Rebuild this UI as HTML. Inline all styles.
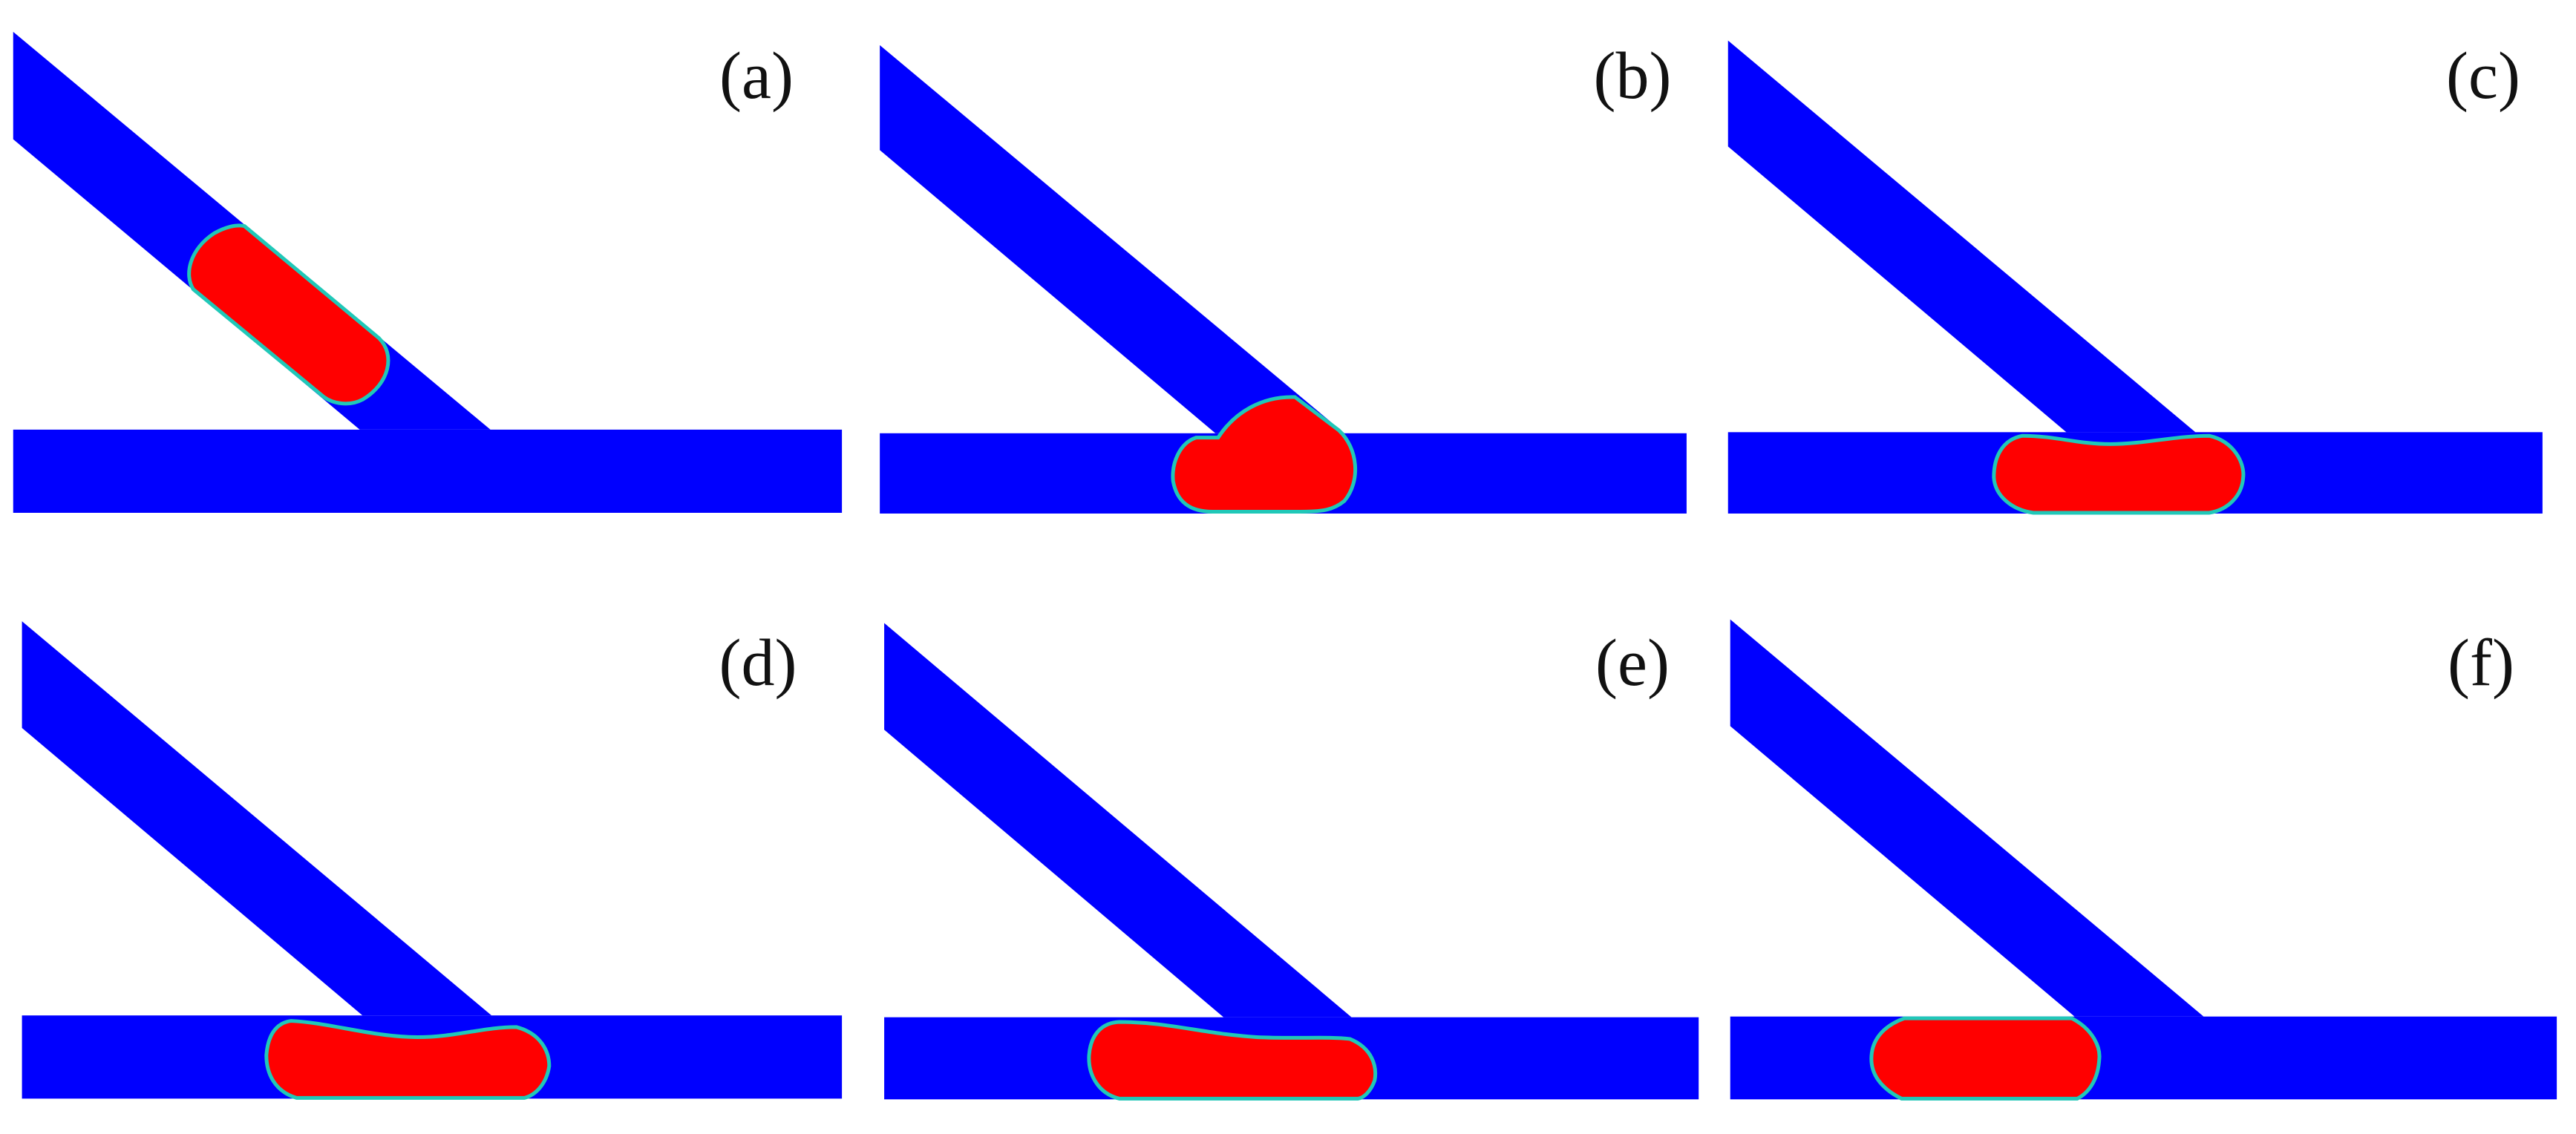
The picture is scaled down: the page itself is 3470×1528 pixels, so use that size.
<!DOCTYPE html>
<html><head><meta charset="utf-8"><style>
html,body{margin:0;padding:0;background:#fff;}
svg{display:block;}
.b{fill:#0000ff;}
.d{fill:#ff0000;stroke:#20c8b8;stroke-width:5;vector-effect:non-scaling-stroke;}
text{font-family:"Liberation Serif",serif;font-size:90px;fill:#111;text-anchor:middle;}
</style></head><body>
<svg width="3470" height="1528" viewBox="0 0 3470 1528" xmlns="http://www.w3.org/2000/svg">
<rect width="3470" height="1528" fill="#fff"/>
<!-- a -->
<g transform="translate(0,0) scale(0.7398,0.4873)">
<polygon class="b" points="24,88 893,1188 655,1188 24,385"/>
<rect class="b" x="24" y="1188" width="1509" height="230"/>
<path class="d" d="M445,625 L690,935 C720,980 710,1060 660,1105 C635,1125 605,1115 590,1098 L352,800 C335,760 345,690 390,645 C410,628 430,620 445,625 Z"/>
</g>
<!-- b -->
<g transform="translate(1160,0) scale(0.7398,0.4873)">
<polygon class="b" points="34,125 880,1198 645,1198 34,415"/>
<rect class="b" x="34" y="1198" width="1469" height="222"/>
<path class="d" d="M650,1210 C680,1140 730,1095 790,1098 L870,1190 C905,1240 910,1330 880,1385 C860,1410 840,1415 800,1415 L640,1415 C600,1415 575,1390 568,1330 C565,1280 580,1225 610,1210 Z"/>
</g>
<!-- c -->
<g transform="translate(2310,0) scale(0.7398,0.4873)">
<polygon class="b" points="24,112 875,1195 640,1195 24,405"/>
<rect class="b" x="24" y="1195" width="1483" height="225"/>
<path class="d" d="M560,1205 C620,1205 660,1228 720,1228 C780,1228 840,1205 900,1205 C945,1220 965,1280 962,1320 C960,1370 935,1410 900,1418 L580,1418 C540,1410 510,1370 508,1320 C508,1260 525,1215 560,1205 Z"/>
</g>
<!-- d -->
<g transform="translate(0,764) scale(0.7398,0.4873)">
<polygon class="b" points="40,150 895,1240 660,1240 40,445"/>
<rect class="b" x="40" y="1240" width="1493" height="230"/>
<path class="d" d="M530,1255 C600,1260 680,1300 760,1300 C830,1300 880,1272 940,1272 C985,1290 1000,1340 1000,1380 C995,1430 975,1460 955,1468 L540,1468 C500,1450 485,1400 485,1350 C488,1290 505,1260 530,1255 Z"/>
</g>
<!-- e -->
<g transform="translate(1160,764) scale(0.7398,0.4873)">
<polygon class="b" points="42,155 893,1245 660,1245 42,450"/>
<rect class="b" x="42" y="1245" width="1483" height="227"/>
<path class="d" d="M470,1258 C560,1258 620,1290 720,1300 C790,1305 850,1298 890,1305 C930,1330 940,1380 935,1420 C928,1450 915,1468 905,1470 L470,1470 C430,1455 413,1400 415,1350 C418,1290 440,1260 470,1258 Z"/>
</g>
<!-- f -->
<g transform="translate(2310,764) scale(0.7398,0.4873)">
<polygon class="b" points="28,145 890,1243 655,1243 28,440"/>
<rect class="b" x="28" y="1243" width="1505" height="229"/>
<path class="d" d="M345,1248 L650,1248 C690,1280 702,1330 700,1360 C698,1410 685,1450 660,1470 L340,1470 C300,1440 285,1400 285,1360 C285,1310 305,1270 345,1248 Z"/>
</g>
<text x="1019" y="132">(a)</text>
<text x="2199" y="132">(b)</text>
<text x="3345" y="132">(c)</text>
<text x="1021" y="923">(d)</text>
<text x="2199" y="923">(e)</text>
<text x="3342" y="923">(f)</text>
</svg>
</body></html>
